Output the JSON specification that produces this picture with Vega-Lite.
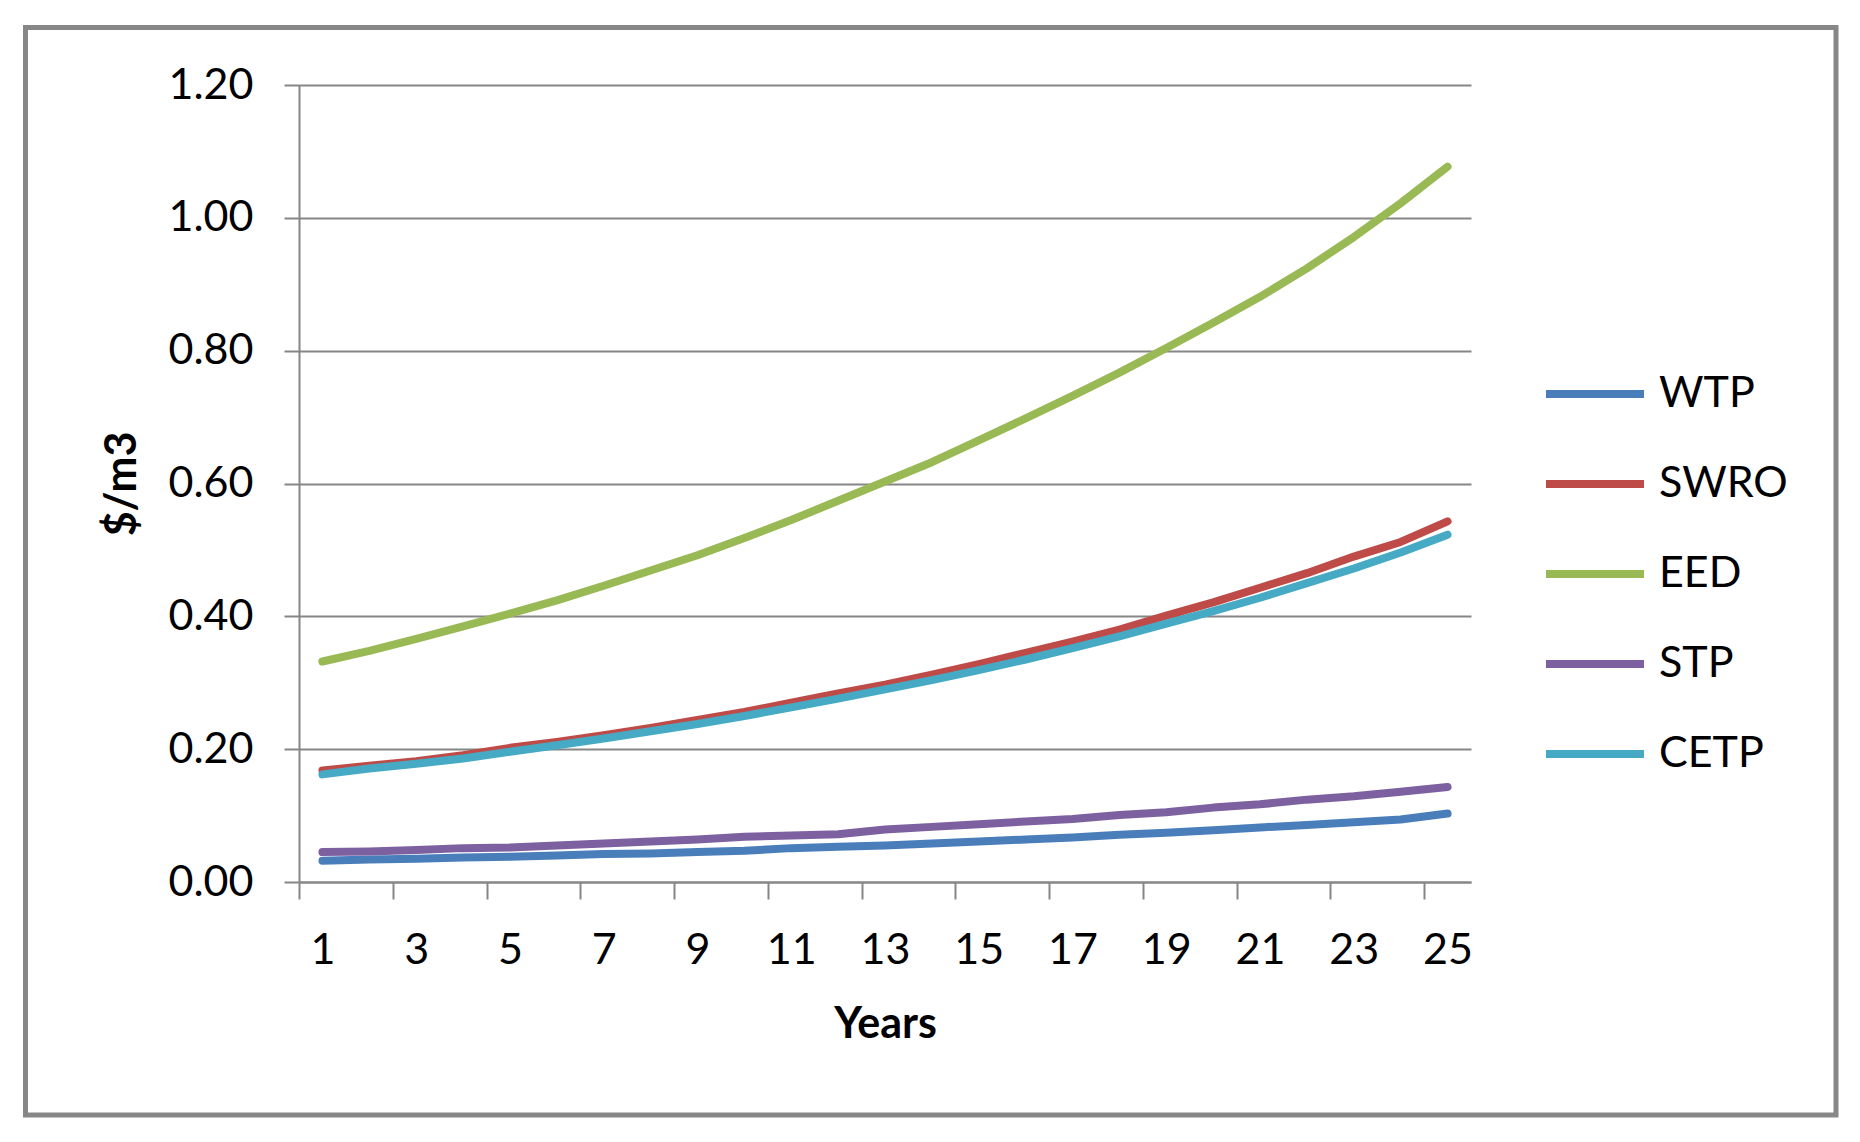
{
  "$schema": "https://vega.github.io/schema/vega-lite/v6.json",
  "autosize": {"type": "none"},
  "width": 1172,
  "height": 797,
  "padding": {"left": 299, "top": 85, "right": 389, "bottom": 260},
  "background": "white",
  "config": {
    "view": {"stroke": null},
    "font": "Lato",
    "axis": {"labelFont": "Lato", "titleFont": "Lato", "labelColor": "#000000", "titleColor": "#000000"}
  },
  "datasets": {
    "costs": [
      {"year": 1, "series": "WTP", "value": 0.032}, {"year": 2, "series": "WTP", "value": 0.034}, {"year": 3, "series": "WTP", "value": 0.035}, {"year": 4, "series": "WTP", "value": 0.037}, {"year": 5, "series": "WTP", "value": 0.038},
      {"year": 6, "series": "WTP", "value": 0.040}, {"year": 7, "series": "WTP", "value": 0.042}, {"year": 8, "series": "WTP", "value": 0.043}, {"year": 9, "series": "WTP", "value": 0.045}, {"year": 10, "series": "WTP", "value": 0.047},
      {"year": 11, "series": "WTP", "value": 0.051}, {"year": 12, "series": "WTP", "value": 0.053}, {"year": 13, "series": "WTP", "value": 0.055}, {"year": 14, "series": "WTP", "value": 0.058}, {"year": 15, "series": "WTP", "value": 0.061},
      {"year": 16, "series": "WTP", "value": 0.064}, {"year": 17, "series": "WTP", "value": 0.067}, {"year": 18, "series": "WTP", "value": 0.071}, {"year": 19, "series": "WTP", "value": 0.074}, {"year": 20, "series": "WTP", "value": 0.078},
      {"year": 21, "series": "WTP", "value": 0.082}, {"year": 22, "series": "WTP", "value": 0.086}, {"year": 23, "series": "WTP", "value": 0.090}, {"year": 24, "series": "WTP", "value": 0.094}, {"year": 25, "series": "WTP", "value": 0.103},

      {"year": 1, "series": "SWRO", "value": 0.168}, {"year": 2, "series": "SWRO", "value": 0.175}, {"year": 3, "series": "SWRO", "value": 0.182}, {"year": 4, "series": "SWRO", "value": 0.191}, {"year": 5, "series": "SWRO", "value": 0.202},
      {"year": 6, "series": "SWRO", "value": 0.211}, {"year": 7, "series": "SWRO", "value": 0.221}, {"year": 8, "series": "SWRO", "value": 0.232}, {"year": 9, "series": "SWRO", "value": 0.244}, {"year": 10, "series": "SWRO", "value": 0.256},
      {"year": 11, "series": "SWRO", "value": 0.270}, {"year": 12, "series": "SWRO", "value": 0.284}, {"year": 13, "series": "SWRO", "value": 0.297}, {"year": 14, "series": "SWRO", "value": 0.312}, {"year": 15, "series": "SWRO", "value": 0.328},
      {"year": 16, "series": "SWRO", "value": 0.345}, {"year": 17, "series": "SWRO", "value": 0.362}, {"year": 18, "series": "SWRO", "value": 0.380}, {"year": 19, "series": "SWRO", "value": 0.401}, {"year": 20, "series": "SWRO", "value": 0.421},
      {"year": 21, "series": "SWRO", "value": 0.443}, {"year": 22, "series": "SWRO", "value": 0.465}, {"year": 23, "series": "SWRO", "value": 0.490}, {"year": 24, "series": "SWRO", "value": 0.512}, {"year": 25, "series": "SWRO", "value": 0.543},

      {"year": 1, "series": "EED", "value": 0.332}, {"year": 2, "series": "EED", "value": 0.348}, {"year": 3, "series": "EED", "value": 0.366}, {"year": 4, "series": "EED", "value": 0.385}, {"year": 5, "series": "EED", "value": 0.404},
      {"year": 6, "series": "EED", "value": 0.424}, {"year": 7, "series": "EED", "value": 0.446}, {"year": 8, "series": "EED", "value": 0.469}, {"year": 9, "series": "EED", "value": 0.492}, {"year": 10, "series": "EED", "value": 0.518},
      {"year": 11, "series": "EED", "value": 0.545}, {"year": 12, "series": "EED", "value": 0.574}, {"year": 13, "series": "EED", "value": 0.603}, {"year": 14, "series": "EED", "value": 0.632}, {"year": 15, "series": "EED", "value": 0.665},
      {"year": 16, "series": "EED", "value": 0.698}, {"year": 17, "series": "EED", "value": 0.732}, {"year": 18, "series": "EED", "value": 0.767}, {"year": 19, "series": "EED", "value": 0.804}, {"year": 20, "series": "EED", "value": 0.842},
      {"year": 21, "series": "EED", "value": 0.881}, {"year": 22, "series": "EED", "value": 0.924}, {"year": 23, "series": "EED", "value": 0.971}, {"year": 24, "series": "EED", "value": 1.022}, {"year": 25, "series": "EED", "value": 1.077},

      {"year": 1, "series": "STP", "value": 0.045}, {"year": 2, "series": "STP", "value": 0.046}, {"year": 3, "series": "STP", "value": 0.048}, {"year": 4, "series": "STP", "value": 0.051}, {"year": 5, "series": "STP", "value": 0.052},
      {"year": 6, "series": "STP", "value": 0.055}, {"year": 7, "series": "STP", "value": 0.058}, {"year": 8, "series": "STP", "value": 0.061}, {"year": 9, "series": "STP", "value": 0.064}, {"year": 10, "series": "STP", "value": 0.068},
      {"year": 11, "series": "STP", "value": 0.070}, {"year": 12, "series": "STP", "value": 0.072}, {"year": 13, "series": "STP", "value": 0.079}, {"year": 14, "series": "STP", "value": 0.083}, {"year": 15, "series": "STP", "value": 0.087},
      {"year": 16, "series": "STP", "value": 0.091}, {"year": 17, "series": "STP", "value": 0.095}, {"year": 18, "series": "STP", "value": 0.101}, {"year": 19, "series": "STP", "value": 0.105}, {"year": 20, "series": "STP", "value": 0.112},
      {"year": 21, "series": "STP", "value": 0.117}, {"year": 22, "series": "STP", "value": 0.124}, {"year": 23, "series": "STP", "value": 0.129}, {"year": 24, "series": "STP", "value": 0.136}, {"year": 25, "series": "STP", "value": 0.143},

      {"year": 1, "series": "CETP", "value": 0.162}, {"year": 2, "series": "CETP", "value": 0.171}, {"year": 3, "series": "CETP", "value": 0.178}, {"year": 4, "series": "CETP", "value": 0.186}, {"year": 5, "series": "CETP", "value": 0.196},
      {"year": 6, "series": "CETP", "value": 0.206}, {"year": 7, "series": "CETP", "value": 0.216}, {"year": 8, "series": "CETP", "value": 0.227}, {"year": 9, "series": "CETP", "value": 0.238}, {"year": 10, "series": "CETP", "value": 0.250},
      {"year": 11, "series": "CETP", "value": 0.263}, {"year": 12, "series": "CETP", "value": 0.276}, {"year": 13, "series": "CETP", "value": 0.290}, {"year": 14, "series": "CETP", "value": 0.304}, {"year": 15, "series": "CETP", "value": 0.319},
      {"year": 16, "series": "CETP", "value": 0.335}, {"year": 17, "series": "CETP", "value": 0.352}, {"year": 18, "series": "CETP", "value": 0.370}, {"year": 19, "series": "CETP", "value": 0.389}, {"year": 20, "series": "CETP", "value": 0.408},
      {"year": 21, "series": "CETP", "value": 0.428}, {"year": 22, "series": "CETP", "value": 0.450}, {"year": 23, "series": "CETP", "value": 0.472}, {"year": 24, "series": "CETP", "value": 0.496}, {"year": 25, "series": "CETP", "value": 0.523}
    ]
  },
  "layer": [
    {
      "data": {"values": [{}]},
      "mark": {"type": "rect", "filled": false, "stroke": "#878787", "strokeWidth": 5, "clip": false},
      "encoding": {
        "x": {"datum": -5.334, "type": "quantitative", "scale": {"domain": [0.5, 25.5], "nice": false, "zero": false}},
        "x2": {"datum": 33.286},
        "y": {"datum": 1.2866, "type": "quantitative", "scale": {"domain": [0, 1.2], "nice": false, "zero": false}},
        "y2": {"datum": -0.3508}
      }
    },
    {
      "data": {"name": "costs"},
      "mark": {"type": "line", "strokeWidth": 8, "strokeCap": "round", "strokeJoin": "round", "clip": false},
      "encoding": {
        "x": {
          "field": "year", "type": "quantitative",
          "scale": {"domain": [0.5, 25.5], "nice": false, "zero": false},
          "axis": {
            "values": [0.5, 1, 2.5, 3, 4.5, 5, 6.5, 7, 8.5, 9, 10.5, 11, 12.5, 13, 14.5, 15, 16.5, 17, 18.5, 19, 20.5, 21, 22.5, 23, 24.5, 25],
            "labelExpr": "datum.value % 1 === 0 ? datum.value : ''",
            "labelOverlap": false,
            "labelFlush": false,
            "grid": false,
            "domainColor": "#868686", "domainWidth": 2,
            "tickColor": "#868686", "tickWidth": 2, "tickSize": 17,
            "tickOpacity": {"condition": {"test": "datum.value % 1 === 0", "value": 0}, "value": 1},
            "labelFontSize": 43, "labelPadding": 30,
            "title": "Years", "titleFontSize": 43, "titleFontWeight": "bold",
            "titleBaseline": "middle", "titleY": 142
          }
        },
        "y": {
          "field": "value", "type": "quantitative",
          "scale": {"domain": [0, 1.2], "nice": false, "zero": false},
          "axis": {
            "values": [0, 0.2, 0.4, 0.6, 0.8, 1.0, 1.2],
            "format": ".2f",
            "grid": true, "gridColor": "#868686", "gridWidth": 2,
            "domainColor": "#868686", "domainWidth": 2,
            "tickColor": "#868686", "tickWidth": 2, "tickSize": 15,
            "labelFontSize": 43, "labelPadding": 31,
            "title": "$/m3", "titleFontSize": 43, "titleFontWeight": "bold",
            "titleX": -177, "titleBaseline": "middle"
          }
        },
        "color": {
          "field": "series", "type": "nominal",
          "scale": {"domain": ["WTP", "SWRO", "EED", "STP", "CETP"], "range": ["#4A7EBB", "#BE4B48", "#98B954", "#7D60A0", "#46AAC5"]},
          "sort": ["WTP", "SWRO", "EED", "STP", "CETP"],
          "legend": {
            "title": null, "orient": "none", "legendX": 1243, "legendY": 256,
            "symbolType": "stroke", "symbolStrokeWidth": 8, "symbolSize": 9604,
            "labelFontSize": 43, "labelFont": "Lato", "labelColor": "#000000",
            "labelOffset": 11, "rowPadding": 15
          }
        }
      }
    }
  ]
}
